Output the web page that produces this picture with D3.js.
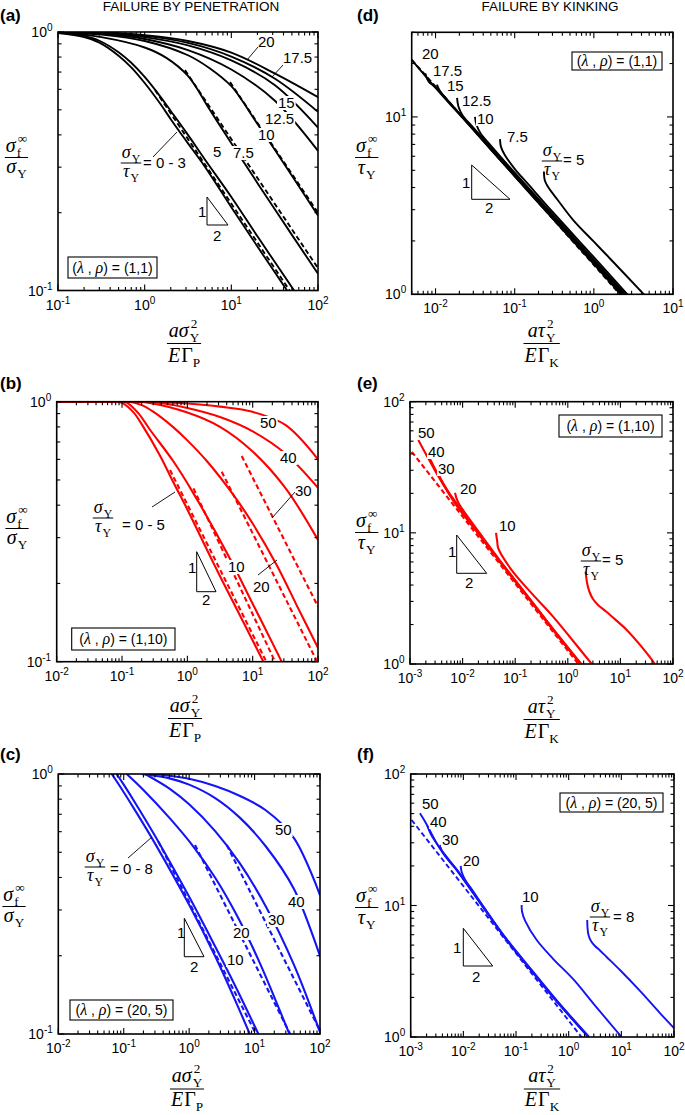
<!DOCTYPE html>
<html><head><meta charset="utf-8">
<script src="https://cdn.jsdelivr.net/npm/d3@7/dist/d3.min.js"></script>
<style>
html,body{margin:0;padding:0;background:#fff;}
svg{display:block;}
</style></head>
<body>
<svg id="chart" width="685" height="1115" xmlns="http://www.w3.org/2000/svg"></svg>
<script>
// ================= DATA =================
// Panel (a): penetration, (λ,ρ)=(1,1), x = aσY²/EΓP, y = σf∞/σY
const a_s0_3  = [[0.1,0.99],[0.2,0.955],[0.3,0.91],[0.5,0.81],[0.7,0.73],[1,0.635],[1.5,0.53],[2,0.46],[3,0.38],[5,0.3],[10,0.21],[20,0.148],[44,0.1]];
const a_s5    = [[0.1,1],[0.2,0.965],[0.3,0.925],[0.5,0.835],[0.7,0.76],[1,0.67],[1.5,0.565],[2,0.495],[3,0.41],[5,0.32],[10,0.23],[20,0.162],[53,0.1]];
const a_s7_5  = [[0.1,1],[0.316,0.955],[1,0.871],[1.78,0.794],[3.16,0.676],[5.62,0.501],[10,0.3715],[31.6,0.2065],[100,0.1161]];
const a_s10   = [[0.1,1],[0.316,0.977],[1,0.923],[3.16,0.813],[5.62,0.724],[10,0.617],[13.3,0.543],[17.8,0.468],[31.6,0.351],[100,0.195]];
const a_s12_5 = [[0.1,1],[0.316,0.9863],[1,0.9397],[3.16,0.8511],[10,0.7161],[31.6,0.5433],[100,0.3467]];
const a_s15   = [[0.1,1],[0.316,0.9908],[1,0.955],[3.16,0.8872],[10,0.7762],[31.6,0.6237],[100,0.4266]];
const a_s17_5 = [[0.1,1],[0.316,0.9931],[1,0.9661],[3.16,0.9078],[10,0.8035],[31.6,0.6607],[100,0.4909]];
const a_s20   = [[0.1,1],[0.316,0.9954],[1,0.9727],[3.16,0.9226],[10,0.8318],[31.6,0.6918],[100,0.5598]];
const a_d1 = [[1.32,0.596],[47,0.1]];
const a_d2 = [[2.92,0.712],[100,0.122]];
const a_d3 = [[9.66,0.64],[100,0.2]];

// Panel (b): penetration, (λ,ρ)=(1,10)
const b_s0_5 = [[0.01,1],[0.08,1],[0.1,0.99],[0.15,0.91],[0.212,0.8],[0.382,0.62],[0.61,0.49],[1,0.385],[2.5,0.24],[5,0.17],[14.6,0.1]];
const b_s10  = [[0.01,1],[0.1,1],[0.12,0.99],[0.18,0.9],[0.268,0.78],[0.61,0.59],[1.24,0.444],[4.5,0.249],[10,0.167],[24.8,0.106],[30,0.096]];
const b_s20  = [[0.01,1],[0.13,1],[0.2,0.97],[0.3,0.915],[0.6,0.8],[1,0.71],[2,0.59],[5,0.44],[10,0.34],[23.4,0.235],[50,0.16],[100,0.113]];
const b_s30  = [[0.01,1],[0.15,1],[0.25,0.99],[1,0.908],[3.16,0.8],[10,0.643],[31.6,0.466],[100,0.294]];
const b_s40  = [[0.01,1],[0.2,1],[0.3,0.997],[1,0.946],[3.16,0.873],[10,0.769],[31.6,0.632],[100,0.466]];
const b_s50  = [[0.01,1],[0.25,1],[0.35,0.998],[1,0.984],[3.16,0.957],[10,0.914],[31.6,0.814],[100,0.6]];
const b_d1 = [[0.543,0.546],[16.2,0.1]];
const b_d2 = [[1.24,0.464],[22,0.1]];
const b_d3 = [[3.36,0.538],[97,0.1]];
const b_d4 = [[6.8,0.618],[100,0.163]];

// Panel (c): penetration, (λ,ρ)=(20,5)
const c_s0_8 = [[0.0656,1],[0.09,0.887],[0.15,0.723],[0.3,0.541],[1,0.314],[2.5,0.199],[5,0.1356],[9,0.0964]];
const c_s10  = [[0.078,1],[0.1,0.91],[0.15,0.774],[0.3,0.579],[1,0.337],[2.5,0.217],[5,0.154],[12,0.0975]];
const c_s20  = [[0.111,1],[0.2,0.868],[0.5,0.678],[1.16,0.526],[2.5,0.399],[5.35,0.286],[12,0.1877],[31,0.106],[40,0.091]];
const c_s30  = [[0.212,1],[0.5,0.879],[1,0.765],[2.5,0.603],[6,0.452],[15,0.308],[40,0.1845],[100,0.1016]];
const c_s40  = [[0.19,1],[0.5,0.962],[1,0.91],[2.5,0.808],[6,0.678],[15,0.525],[40,0.361],[100,0.199]];
const c_s50  = [[0.24,1],[0.5,0.985],[1,0.958],[2.5,0.899],[6,0.823],[15,0.724],[40,0.567],[100,0.342]];
const c_d1 = [[0.338,0.55],[10.5,0.1]];
const c_d2 = [[1.23,0.533],[35,0.1]];
const c_d3 = [[3.76,0.533],[100,0.103]];

// Panel (d): kinking, (λ,ρ)=(1,1), x = aτY²/EΓK, y = σf∞/τY
const d_s20   = [[0.005,21],[0.01,14.6],[0.03,8.45],[0.1,4.62],[0.3,2.68],[1,1.48],[2.2,1]];
const d_s17_5 = [[0.0074,17.6],[0.0082,15.8],[0.01,14.7],[0.03,8.5],[0.1,4.65],[0.3,2.7],[1,1.5],[2.25,1]];
const d_s15   = [[0.0104,15.2],[0.0115,13.9],[0.03,8.55],[0.1,4.68],[0.3,2.72],[1,1.52],[2.3,1]];
const d_s12_5 = [[0.0187,12.8],[0.0195,11.4],[0.022,10.2],[0.03,8.7],[0.1,4.75],[0.3,2.76],[1,1.54],[2.4,1]];
const d_s10   = [[0.0315,10],[0.033,9],[0.037,8.1],[0.05,6.9],[0.1,4.85],[0.3,2.82],[1,1.57],[2.5,1]];
const d_s7_5  = [[0.0652,7.5],[0.067,6.8],[0.075,6.1],[0.1,5.1],[0.15,4.15],[0.3,2.92],[1,1.62],[2.65,1]];
const d_s5    = [[0.234,4.93],[0.24,4.4],[0.262,4.05],[0.35,3.4],[0.545,2.63],[1,1.98],[1.46,1.66],[4.29,1]];
const d_dash  = [[0.005,21],[2.13,1]];

// Panel (e): kinking, (λ,ρ)=(1,10)
const e_s50 = [[0.00144,51],[0.002,40],[0.00321,28.4],[0.00718,16.8],[0.0214,9.5],[0.0514,6.0],[0.2,3.0],[0.5,1.86],[1.75,1]];
const e_s40 = [[0.00213,40.4],[0.0025,35.5],[0.00321,29.2],[0.00718,17],[0.0214,9.55],[0.0514,6.02],[0.2,3.01],[0.5,1.87],[1.76,1]];
const e_s30 = [[0.00321,30.1],[0.0037,26.4],[0.005,21.4],[0.00718,17.4],[0.0214,9.6],[0.0514,6.05],[0.2,3.02],[0.5,1.88],[1.78,1]];
const e_s20 = [[0.00718,20.2],[0.0076,18.5],[0.0085,16.7],[0.011,14.3],[0.0214,9.9],[0.0514,6.15],[0.2,3.06],[0.5,1.9],[1.8,1]];
const e_s10 = [[0.0432,10],[0.0455,8.6],[0.0477,7.6],[0.0857,5.2],[0.2,3.5],[0.5,2.35],[1,1.68],[2.85,1]];
const e_s5  = [[2.19,5.05],[2.25,4.52],[2.37,4.0],[2.59,3.54],[3.01,3.13],[3.75,2.82],[5.49,2.49],[8.24,2.16],[13.2,1.82],[23.6,1.4],[42.3,1.04],[45,1]];
const e_dash = [[0.00108,41.5],[1.585,1]];

// Panel (f): kinking, (λ,ρ)=(20,5)
const f_s50 = [[0.0015,50.2],[0.002,41.5],[0.0036,27],[0.00746,18.6],[0.02,10.7],[0.06,5.75],[0.2,3.15],[0.6,1.85],[2.35,1]];
const f_s40 = [[0.00207,40.2],[0.0024,35],[0.0036,27.3],[0.00746,18.7],[0.02,10.75],[0.06,5.78],[0.2,3.17],[0.6,1.86],[2.37,1]];
const f_s30 = [[0.0036,28.8],[0.004,25.5],[0.0055,21.5],[0.00746,18.8],[0.02,10.8],[0.06,5.8],[0.2,3.18],[0.6,1.87],[2.4,1]];
const f_s20 = [[0.0089,20],[0.0093,18],[0.011,15.5],[0.015,13],[0.025,9.6],[0.06,5.85],[0.2,3.22],[0.6,1.89],[2.45,1]];
const f_s10 = [[0.128,10.1],[0.13,9],[0.15,7.6],[0.247,5.46],[0.5,3.95],[1.22,2.75],[3,1.78],[10.1,1]];
const f_s8  = [[2.25,7.76],[2.28,6.74],[2.38,5.97],[2.65,5.37],[3.16,4.92],[3.93,4.55],[5.26,4.06],[9.42,3.23],[22.6,2.24],[54.1,1.52],[100,1.17]];
const f_dash = [[0.00104,44.7],[1.75,1]];

// axis domains and texts
const xDomA = [0.1, 100], yDomPen = [0.1, 1];
const xDomB = [0.01, 100], xDomC = [0.01, 100];
const xDomD = [0.005, 10], yDomD = [1, 30];
const xDomEF = [0.001, 100], yDomEF = [1, 100];
const titles = ['FAILURE BY PENETRATION', 'FAILURE BY KINKING'];
const legendTexts = {a:'(1,1)', b:'(1,10)', c:'(20, 5)', d:'(1,1)', e:'(1,10)', f:'(20, 5)'};

// ================= RENDERING =================
const SANS = "'Liberation Sans', Arial, Helvetica, sans-serif";
const SERIF = "'Liberation Serif', 'Times New Roman', serif";
const svg = d3.select('#chart');
const defs = svg.append('defs');

function measure(str, size, italic) {
  const t = svg.append('text').attr('font-family', SERIF).attr('font-size', size)
    .attr('font-style', italic ? 'italic' : 'normal').text(str);
  const w = t.node().getComputedTextLength();
  t.remove();
  return w;
}

function rich(parent, parts, size) {
  const txt = parent.append('text').attr('font-family', SERIF).attr('font-size', size);
  let cx = 0;
  parts.forEach(p => {
    if (p.sub !== undefined || p.sup !== undefined) {
      const s = size * 0.66;
      let w = 0;
      if (p.sub !== undefined) {
        txt.append('tspan').attr('x', cx).attr('y', size * 0.26).attr('font-size', s).text(p.sub);
        w = Math.max(w, measure(p.sub, s));
      }
      if (p.sup !== undefined) {
        txt.append('tspan').attr('x', cx + 1).attr('y', -size * 0.45).attr('font-size', s).text(p.sup);
        w = Math.max(w, measure(p.sup, s) + 1);
      }
      cx += w;
    } else {
      txt.append('tspan').attr('x', cx).attr('y', 0).attr('font-style', p.it ? 'italic' : 'normal').text(p.t);
      cx += measure(p.t, size, p.it) + (p.gap || 0);
    }
  });
  return {g: txt, w: cx};
}

function frac(parent, cx, nb, bar, db, num, den, size) {
  const n = rich(parent, num, size); n.g.attr('transform', `translate(${cx - n.w / 2},${nb})`);
  const d = rich(parent, den, size); d.g.attr('transform', `translate(${cx - d.w / 2},${db})`);
  const w = Math.max(n.w, d.w) + 2;
  parent.append('line').attr('x1', cx - w / 2).attr('x2', cx + w / 2)
    .attr('y1', bar).attr('y2', bar).attr('stroke', '#000').attr('stroke-width', 1);
}

const SIG_F = [{t:'σ', it:true, gap:1}, {sub:'f', sup:'∞'}];
const SIG_Y = [{t:'σ', it:true, gap:1}, {sub:'Y'}];
const TAU_Y = [{t:'τ', it:true, gap:1}, {sub:'Y'}];
const A_SIG = [{t:'a', it:true}, {t:'σ', it:true, gap:1}, {sub:'Y', sup:'2'}];
const A_TAU = [{t:'a', it:true}, {t:'τ', it:true, gap:1}, {sub:'Y', sup:'2'}];
const E_GP  = [{t:'E', it:true, gap:1}, {t:'Γ'}, {sub:'P'}];
const E_GK  = [{t:'E', it:true, gap:1}, {t:'Γ'}, {sub:'K'}];

const BLACK = '#000', RED = '#ff0000', BLUE = '#1414f5';

const panels = [
  {key:'a', L:58, T:32, R:318, B:290.5, xd:xDomA, yd:yDomPen, color:BLACK, sw:1.9,
   solid:[a_s0_3,a_s5,a_s7_5,a_s10,a_s12_5,a_s15,a_s17_5,a_s20], dashed:[a_d1,a_d2,a_d3],
   ylab:[16.5,152,157.5,173, SIG_F, SIG_Y], xlab:[184,337,343.5,362, A_SIG, E_GP],
   plabel:[0,21,'(a)'],
   ratio:{cx:131, nb:158, bar:163, db:177, eq:'= 0 - 3', ex:143, eb:168},
   legend:[68,257,157,278],
   tri:{x:207, top:197, bot:225, right:228, one:[198,217], two:[213,241]},
   labels:[['20',258,47],['17.5',283,63],['15',278,108],['12.5',265,124],['10',258,140],['5',213,157],['7.5',233,158]],
   ptr:[[153,157,177,132],[258,47,247,60],[283,65,272,77]]},
  {key:'d', L:411.7, T:32.3, R:673, B:294.3, xd:xDomD, yd:yDomD, color:BLACK, sw:1.9,
   solid:[d_s20,d_s17_5,d_s15,d_s12_5,d_s10,d_s7_5,d_s5], dashed:[d_dash],
   ylab:[366.7,152,157.5,174, SIG_F, TAU_Y], xlab:[541.7,337,343.5,362, A_TAU, E_GK],
   plabel:[357,21,'(d)'],
   ratio:{cx:552, nb:156, bar:161, db:175, eq:'= 5', ex:563, eb:165},
   legend:[572,52,662,70],
   tri:{x:471.7, top:165, bot:199.3, right:510, one:[462,188], two:[485,213]},
   labels:[['20',422,59],['17.5',433,76],['15',447,91],['12.5',462,106],['10',477,124],['7.5',507,142]],
   ptr:[]},
  {key:'b', L:56.7, T:401.7, R:318, B:661.7, xd:xDomB, yd:yDomPen, color:RED, sw:2.1,
   solid:[b_s0_5,b_s10,b_s20,b_s30,b_s40,b_s50], dashed:[b_d1,b_d2,b_d3,b_d4],
   ylab:[17,523,528.5,544, SIG_F, SIG_Y], xlab:[185,712,718.5,737, A_SIG, E_GP],
   plabel:[0,389,'(b)'],
   ratio:{cx:103, nb:513, bar:518, db:532, eq:'= 0 - 5', ex:122, eb:530},
   legend:[71.7,628,175,650],
   tri:{x:196.7, top:551.7, bot:591.7, right:216, one:[188,573], two:[202,605]},
   labels:[['50',260,428],['40',280,463],['30',295,496],['10',228,572],['20',253,592]],
   ptr:[[152,507,175,492],[295,492,272,518],[258,575,277,560]]},
  {key:'e', L:410, T:401.7, R:673, B:664, xd:xDomEF, yd:yDomEF, color:RED, sw:2.1,
   solid:[e_s50,e_s40,e_s30,e_s20,e_s10,e_s5], dashed:[e_dash],
   ylab:[366.7,527,532.5,549, SIG_F, TAU_Y], xlab:[541.7,713,719.5,738, A_TAU, E_GK],
   plabel:[357,389,'(e)'],
   ratio:{cx:591, nb:556, bar:561, db:575, eq:'= 5', ex:602, eb:565},
   legend:[559,415,662,437],
   tri:{x:456.7, top:535, bot:573.3, right:486.7, one:[448,557], two:[465,588]},
   labels:[['50',418,438],['40',428,457],['30',438,474],['20',460,494],['10',499,531]],
   ptr:[]},
  {key:'c', L:58.3, T:774, R:320, B:1034, xd:xDomC, yd:yDomPen, color:BLUE, sw:2.1,
   solid:[c_s0_8,c_s10,c_s20,c_s30,c_s40,c_s50], dashed:[c_d1,c_d2,c_d3],
   ylab:[14,901,906.5,922, SIG_F, SIG_Y], xlab:[187,1082,1089,1106, A_SIG, E_GP],
   plabel:[0,760,'(c)'],
   ratio:{cx:95, nb:862, bar:867, db:881, eq:'= 0 - 8', ex:110, eb:874},
   legend:[70,1000,173,1020],
   tri:{x:184.3, top:918.3, bot:956.7, right:204, one:[177,938], two:[190,972]},
   labels:[['50',275,835],['40',288,907],['30',268,925],['20',233,938],['10',227,965]],
   ptr:[[128,858,152,837]]},
  {key:'f', L:410.7, T:774, R:674, B:1037, xd:xDomEF, yd:yDomEF, color:BLUE, sw:1.9,
   solid:[f_s50,f_s40,f_s30,f_s20,f_s10,f_s8], dashed:[f_dash],
   ylab:[366.7,902,907.5,924, SIG_F, TAU_Y], xlab:[542,1082,1089,1106, A_TAU, E_GK],
   plabel:[357,760,'(f)'],
   ratio:{cx:600, nb:912, bar:917, db:931, eq:'= 8', ex:613, eb:922},
   legend:[560,793,663,812],
   tri:{x:463.3, top:928.3, bot:966, right:492.7, one:[453,953], two:[472,982]},
   labels:[['50',422,809],['40',430,827],['30',442,845],['20',463,866],['10',522,902]],
   ptr:[]}
];

svg.append('text').attr('x', 191).attr('y', 11).attr('text-anchor', 'middle')
  .attr('font-family', SANS).attr('font-size', 13.5).text(titles[0]);
svg.append('text').attr('x', 550).attr('y', 11).attr('text-anchor', 'middle')
  .attr('font-family', SANS).attr('font-size', 13.5).text(titles[1]);

function drawPanel(p) {
  const x = d3.scaleLog().domain(p.xd).range([p.L, p.R]);
  const y = d3.scaleLog().domain(p.yd).range([p.B, p.T]);
  const g = svg.append('g');
  const cid = 'clip-' + p.key;
  defs.append('clipPath').attr('id', cid).append('rect')
    .attr('x', p.L).attr('y', p.T).attr('width', p.R - p.L).attr('height', p.B - p.T);

  const ann = g.append('g');
  const t = p.tri;
  ann.append('path').attr('d', `M${t.x},${t.top}L${t.x},${t.bot}L${t.right},${t.bot}Z`)
    .attr('fill', 'none').attr('stroke', '#000').attr('stroke-width', 1);
  ann.append('text').attr('x', t.one[0]).attr('y', t.one[1]).attr('font-family', SANS).attr('font-size', 15).text('1');
  ann.append('text').attr('x', t.two[0]).attr('y', t.two[1]).attr('font-family', SANS).attr('font-size', 15).text('2');

  const plot = g.append('g').attr('clip-path', `url(#${cid})`);
  const line = d3.line().x(d => x(d[0])).y(d => y(d[1])).curve(d3.curveCatmullRom.alpha(0.5));
  p.dashed.forEach(s => plot.append('path').attr('d', line(s)).attr('fill', 'none')
    .attr('stroke', p.color).attr('stroke-width', p.sw).attr('stroke-dasharray', '5,3'));
  p.solid.forEach(s => plot.append('path').attr('d', line(s)).attr('fill', 'none')
    .attr('stroke', p.color).attr('stroke-width', p.sw).attr('stroke-linejoin', 'round'));

  g.append('rect').attr('x', p.L).attr('y', p.T).attr('width', p.R - p.L).attr('height', p.B - p.T)
    .attr('fill', 'none').attr('stroke', '#000').attr('stroke-width', 1.6);

  const isMajor = v => Math.abs(Math.log10(v) - Math.round(Math.log10(v))) < 1e-6;
  const tk = g.append('g').attr('stroke', '#000').attr('stroke-width', 1.1);
  x.ticks().forEach(v => {
    const px = x(v), len = isMajor(v) ? 6 : 3.5;
    tk.append('line').attr('x1', px).attr('x2', px).attr('y1', p.B).attr('y2', p.B - len);
    tk.append('line').attr('x1', px).attr('x2', px).attr('y1', p.T).attr('y2', p.T + len);
    if (isMajor(v)) {
      const e = Math.round(Math.log10(v));
      const tx = g.append('text').attr('x', px).attr('y', p.B + 19).attr('text-anchor', 'middle')
        .attr('font-family', SANS).attr('font-size', 14).text('10');
      tx.append('tspan').attr('dy', -6).attr('font-size', 10).text(e);
    }
  });
  y.ticks().forEach(v => {
    const py = y(v), len = isMajor(v) ? 6 : 3.5;
    tk.append('line').attr('x1', p.L).attr('x2', p.L + len).attr('y1', py).attr('y2', py);
    tk.append('line').attr('x1', p.R).attr('x2', p.R - len).attr('y1', py).attr('y2', py);
    if (isMajor(v)) {
      const e = Math.round(Math.log10(v));
      const tx = g.append('text').attr('x', p.L - 5.5).attr('y', py + 5).attr('text-anchor', 'end')
        .attr('font-family', SANS).attr('font-size', 14).text('10');
      tx.append('tspan').attr('dy', -6).attr('font-size', 10).text(e);
    }
  });

  frac(g, p.ylab[0], p.ylab[1], p.ylab[2], p.ylab[3], p.ylab[4], p.ylab[5], 20);
  frac(g, p.xlab[0], p.xlab[1], p.xlab[2], p.xlab[3], p.xlab[4], p.xlab[5], 20);

  g.append('text').attr('x', p.plabel[0]).attr('y', p.plabel[1]).attr('font-family', SANS)
    .attr('font-weight', 'bold').attr('font-size', 17).text(p.plabel[2]);

  const r = p.ratio;
  frac(g, r.cx, r.nb, r.bar, r.db, SIG_Y, TAU_Y, 18);
  g.append('text').attr('x', r.ex).attr('y', r.eb).attr('font-family', SANS).attr('font-size', 15).text(r.eq);

  // curve labels sit on a white patch that masks the curve behind them
  p.labels.forEach(l => {
    const lab = g.append('g');
    const bg = lab.append('rect').attr('fill', '#fff');
    const tx = lab.append('text').attr('x', l[1]).attr('y', l[2]).attr('font-family', SANS)
      .attr('font-size', 15).text(l[0]);
    const bb = tx.node().getBBox();
    bg.attr('x', bb.x - 1).attr('y', bb.y + 2).attr('width', bb.width + 2).attr('height', bb.height - 3);
  });
  p.ptr.forEach(q => g.append('line').attr('x1', q[0]).attr('y1', q[1]).attr('x2', q[2]).attr('y2', q[3])
    .attr('stroke', '#000').attr('stroke-width', 0.9));

  const lg = p.legend;
  g.append('rect').attr('x', lg[0]).attr('y', lg[1]).attr('width', lg[2] - lg[0]).attr('height', lg[3] - lg[1])
    .attr('fill', '#fff').attr('stroke', '#000').attr('stroke-width', 1.1);
  const lt = g.append('text').attr('x', (lg[0] + lg[2]) / 2).attr('y', (lg[1] + lg[3]) / 2 + 5)
    .attr('text-anchor', 'middle').attr('font-family', SANS).attr('font-size', 14);
  lt.append('tspan').text('(');
  lt.append('tspan').attr('font-family', SERIF).attr('font-style', 'italic').attr('font-size', 16).text('λ');
  lt.append('tspan').text(' , ');
  lt.append('tspan').attr('font-family', SERIF).attr('font-style', 'italic').attr('font-size', 16).text('ρ');
  lt.append('tspan').text(') = ' + legendTexts[p.key]);
}

panels.forEach(drawPanel);
</script>
</body></html>
